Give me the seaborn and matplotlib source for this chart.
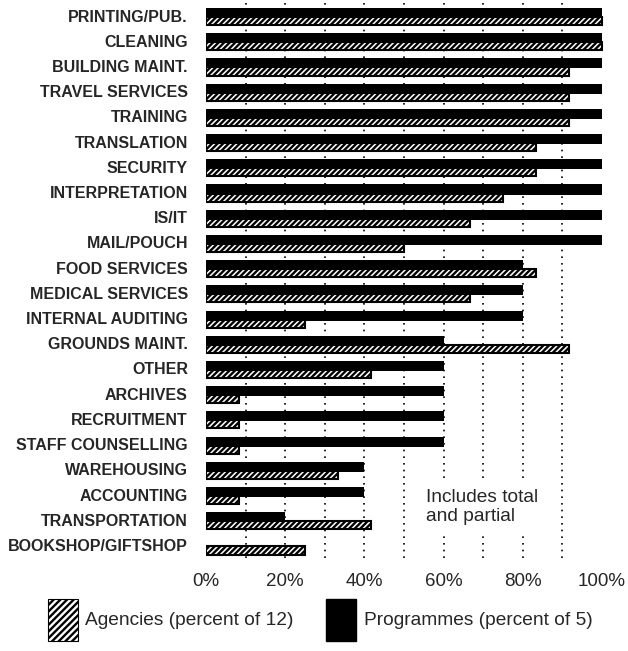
#!/usr/bin/env python3

import pandas as pd
import seaborn as sns
import matplotlib.pyplot as plt
from matplotlib.patches import Patch

# === Data (percent of organisations providing each service) ===
categories = [
    "PRINTING/PUB.", "CLEANING", "BUILDING MAINT.", "TRAVEL SERVICES",
    "TRAINING", "TRANSLATION", "SECURITY", "INTERPRETATION", "IS/IT",
    "MAIL/POUCH", "FOOD SERVICES", "MEDICAL SERVICES", "INTERNAL AUDITING",
    "GROUNDS MAINT.", "OTHER", "ARCHIVES", "RECRUITMENT",
    "STAFF COUNSELLING", "WAREHOUSING", "ACCOUNTING", "TRANSPORTATION",
    "BOOKSHOP/GIFTSHOP",
]
programmes = [100, 100, 100, 100, 100, 100, 100, 100, 100, 100,
              80, 80, 80, 60, 60, 60, 60, 60, 40, 40, 20, 0]
agencies = [100, 100, 91.7, 91.7, 91.7, 83.3, 83.3, 75, 66.7, 50,
            83.3, 66.7, 25, 91.7, 41.7, 8.3, 8.3, 8.3, 33.3, 8.3, 41.7, 25]
x_ticks = [0, 20, 40, 60, 80, 100]
x_tick_labels = ["0%", "20%", "40%", "60%", "80%", "100%"]


def main():
    df = pd.DataFrame({"service": categories,
                       "Programmes": programmes,
                       "Agencies": agencies})

    sns.set_theme(style="white")
    plt.rcParams["font.family"] = ["Liberation Sans", "DejaVu Sans"]
    plt.rcParams["hatch.linewidth"] = 1.7

    fig = plt.figure(figsize=(6.28, 6.51), dpi=100)
    ax = fig.add_axes([0.328, 0.1435, 0.637, 0.852])

    # --- Programmes: solid black, upper part of each row ---
    sns.barplot(data=df, x="Programmes", y="service", orient="h",
                color="black", saturation=1, width=0.40, ax=ax,
                linewidth=0, zorder=2)
    # --- Agencies: hatched, lower part of each row, drawn on top ---
    sns.barplot(data=df, x="Agencies", y="service", orient="h",
                color="white", saturation=1, width=0.32, ax=ax,
                edgecolor="black", linewidth=1.5, hatch="//////", zorder=3)

    for p in ax.containers[0]:
        p.set_y(p.get_y() - 0.10)
    for p in ax.containers[1]:
        p.set_y(p.get_y() + 0.22)

    # dotted guide lines every 10%
    ax.vlines(range(10, 100, 10), -0.5, len(categories) - 0.5,
              color="black", linestyle=(0, (1, 3)), linewidth=1.2, zorder=1)

    ax.set_xlim(0, 101)
    ax.set_ylim(len(categories) - 0.5, -0.5)
    ax.set_xticks(x_ticks)
    ax.set_xticklabels(x_tick_labels, fontsize=13.5)
    ax.grid(False)
    ax.tick_params(axis="x", length=0, pad=11)
    ax.tick_params(axis="y", length=0, pad=13)
    for lab in ax.get_yticklabels():
        lab.set_fontweight("bold")
        lab.set_fontsize(11.5)
    ax.set_xlabel("")
    ax.set_ylabel("")
    sns.despine(ax=ax, left=True, bottom=True)

    ax.text(55.5, 19.5, "Includes total\nand partial", fontsize=13.8,
            va="center", ha="left", linespacing=1.2, zorder=4,
            bbox=dict(facecolor="white", edgecolor="none", pad=5))

    # --- Legend below the plot ---
    handles = [
        Patch(facecolor="white", edgecolor="black", hatch="/////",
              linewidth=0.8, label="Agencies (percent of 12)"),
        Patch(facecolor="black", edgecolor="black",
              label="Programmes (percent of 5)"),
    ]
    leg = fig.legend(handles=handles, loc="center",
                     bbox_to_anchor=(0.51, 0.048), ncol=2, frameon=False,
                     fontsize=13.8, handlelength=1.56, handleheight=3.0,
                     handletextpad=0.4, columnspacing=1.7,
                     borderpad=0, borderaxespad=0)
    leg.legend_handles[0].set_hatch("/////")

    fig.savefig("out.png", dpi=100)
    plt.close(fig)


if __name__ == "__main__":
    main()
